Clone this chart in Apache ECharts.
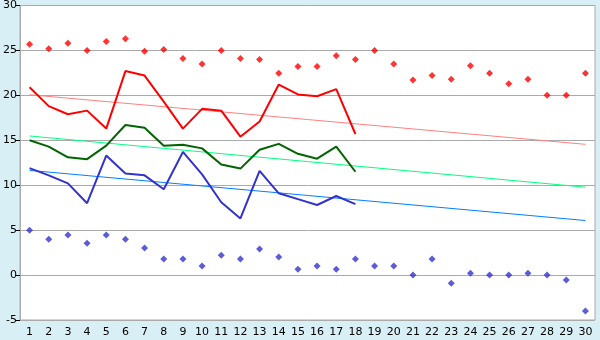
<!DOCTYPE html>
<html><head><meta charset="utf-8">
<script src="https://cdn.jsdelivr.net/npm/echarts@6/dist/echarts.min.js"></script>
<style>html,body{margin:0;padding:0;background:#d9eff6;}#c{width:600px;height:340px;}</style>
</head><body><div id="c"></div>
<script>
var categories = ['1','2','3','4','5','6','7','8','9','10','11','12','13','14','15','16','17','18','19','20','21','22','23','24','25','26','27','28','29','30'];
var redDots = [25.7,25.2,25.8,25.0,26.0,26.3,24.9,25.1,24.1,23.5,25.0,24.1,24.0,22.45,23.2,23.2,24.4,24.0,25.0,23.5,21.7,22.2,21.8,23.3,22.45,21.3,21.8,20.0,20.0,22.45];
var blueDots = [5.0,4.0,4.45,3.55,4.45,4.0,3.0,1.8,1.8,1.0,2.2,1.8,2.9,2.0,0.65,1.0,0.65,1.8,1.0,1.0,0.0,1.8,-0.9,0.2,0.0,0.0,0.2,0.0,-0.55,-4.0];
var redLine = [20.9,18.8,17.9,18.3,16.3,22.7,22.2,19.3,16.3,18.5,18.3,15.4,17.1,21.2,20.1,19.9,20.7,15.7];
var greenLine = [15.0,14.3,13.1,12.9,14.4,16.7,16.4,14.4,14.5,14.1,12.3,11.85,13.95,14.6,13.5,12.95,14.3,11.5];
var blueLine = [11.9,11.1,10.2,8.0,13.3,11.3,11.1,9.55,13.7,11.2,8.1,6.3,11.6,9.1,8.45,7.8,8.8,7.9];
var redTrendEnds = [20.07,14.55];
var greenTrendEnds = [15.48,9.78];
var blueTrendEnds = [11.65,6.07];
var yTicks = {min:-5,max:30,interval:5};

function trend(ends){
  var a = categories.map(function(){return null;});
  a[0]=ends[0]; a[categories.length-1]=ends[1];
  return a;
}
var chart = echarts.init(document.getElementById('c'),null,{renderer:'canvas'});
var font = 'DejaVu Sans';
chart.setOption({
  backgroundColor:'#d9eff6',
  animation:false,
  grid:{left:20,right:5,top:5,bottom:20,show:true,backgroundColor:'#ffffff',borderColor:'#aaaaaa',borderWidth:1},
  xAxis:{type:'category',data:categories,boundaryGap:true,
    axisLine:{lineStyle:{color:'#aaaaaa'}},
    axisTick:{alignWithLabel:true,length:5,lineStyle:{color:'#000'}},
    axisLabel:{color:'#000',fontFamily:font,fontSize:11,margin:7,interval:0},
    splitLine:{show:false}},
  yAxis:{type:'value',min:yTicks.min,max:yTicks.max,interval:yTicks.interval,
    axisLine:{show:true,lineStyle:{color:'#aaaaaa'}},
    axisTick:{show:true,length:4,lineStyle:{color:'#000'}},
    axisLabel:{color:'#000',fontFamily:font,fontSize:11,margin:3},
    splitLine:{lineStyle:{color:'#aaaaaa',width:1}}},
  series:[
    {type:'line',data:trend(redTrendEnds),connectNulls:true,symbol:'none',lineStyle:{color:'#ff8080',width:1},z:1},
    {type:'line',data:trend(greenTrendEnds),connectNulls:true,symbol:'none',lineStyle:{color:'#00ff80',width:1},z:1},
    {type:'line',data:trend(blueTrendEnds),connectNulls:true,symbol:'none',lineStyle:{color:'#0080ff',width:1},z:1},
    {type:'line',data:redLine,symbol:'none',lineStyle:{color:'#ff0000',width:2},z:3},
    {type:'line',data:greenLine,symbol:'none',lineStyle:{color:'#006400',width:2},z:3},
    {type:'line',data:blueLine,symbol:'none',lineStyle:{color:'#3333cc',width:2},z:3},
    {type:'scatter',data:redDots,symbol:'diamond',symbolSize:7,itemStyle:{color:'#ff0000'},z:4},
    {type:'scatter',data:blueDots,symbol:'diamond',symbolSize:7,itemStyle:{color:'#3333cc'},z:4}
  ]
});
</script></body></html>
